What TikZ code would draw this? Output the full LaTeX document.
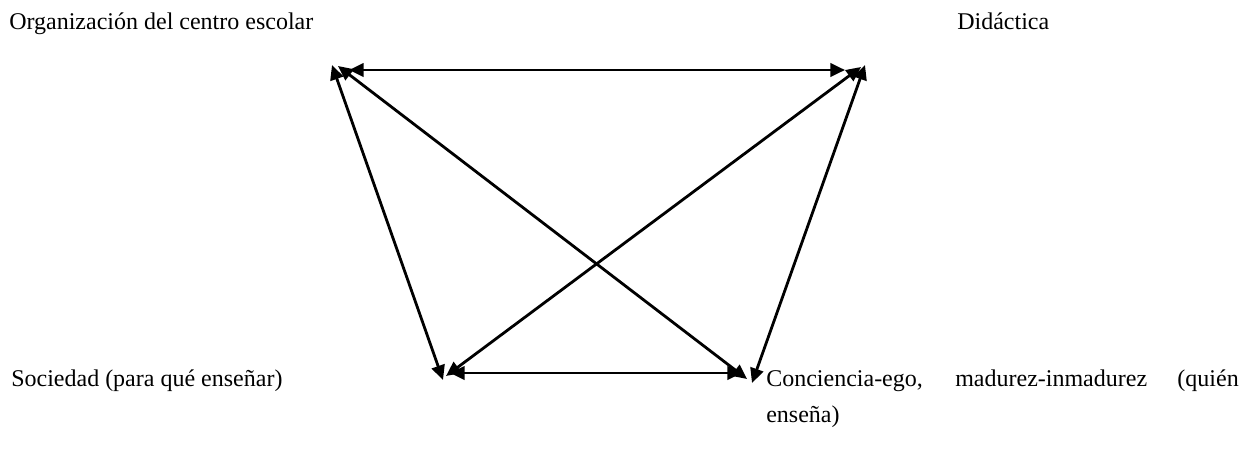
\documentclass[tikz,border=0pt]{standalone}
\usepackage{fontspec}
\setmainfont{Liberation Serif}
\usetikzlibrary{arrows.meta}
\tikzset{
  lbl/.style={anchor=base west, inner sep=0pt, font=\fontsize{18}{27}\selectfont},
  lblr/.style={anchor=base east, inner sep=0pt, font=\fontsize{18}{27}\selectfont},
  link/.style={line width=2.1pt, {Triangle[length=11pt,width=10pt]}-{Triangle[length=11pt,width=10pt]}}
}
\begin{document}
\begin{tikzpicture}[x=0.75pt,y=-0.75pt]
\useasboundingbox (0,0) rectangle (1256,450);
% labels
\node[lbl] (org) at (9,29) {Organización del centro escolar};
\node[lbl] (did) at (957,29) {Didáctica};
\node[lbl] (soc) at (11,386) {Sociedad (para qué enseñar)};
\node[lbl] (con1) at (766,386) {Conciencia-ego,};
\node[lbl] (con2) at (955,386) {madurez-inmadurez};
\node[lblr] (con3) at (1239,386) {(quién};
\node[lbl] (con4) at (766,422) {enseña)};
% end points
\coordinate (th1) at (349,70);
\coordinate (th2) at (845,70);
\coordinate (l1) at (332,65);
\coordinate (l2) at (443,380);
\coordinate (d1a) at (338,66);
\coordinate (d1b) at (747,379);
\coordinate (d2a) at (861,67);
\coordinate (d2b) at (446,376);
\coordinate (r1) at (865,65);
\coordinate (r2) at (752,383);
\coordinate (b1) at (450,373);
\coordinate (b2) at (742,373);
% connectors
\draw[link] (th1) -- (th2);
\draw[link] (l1) -- (l2);
\draw[link] (d1a) -- (d1b);
\draw[link] (d2a) -- (d2b);
\draw[link] (r1) -- (r2);
\draw[link] (b1) -- (b2);
\end{tikzpicture}
\end{document}
